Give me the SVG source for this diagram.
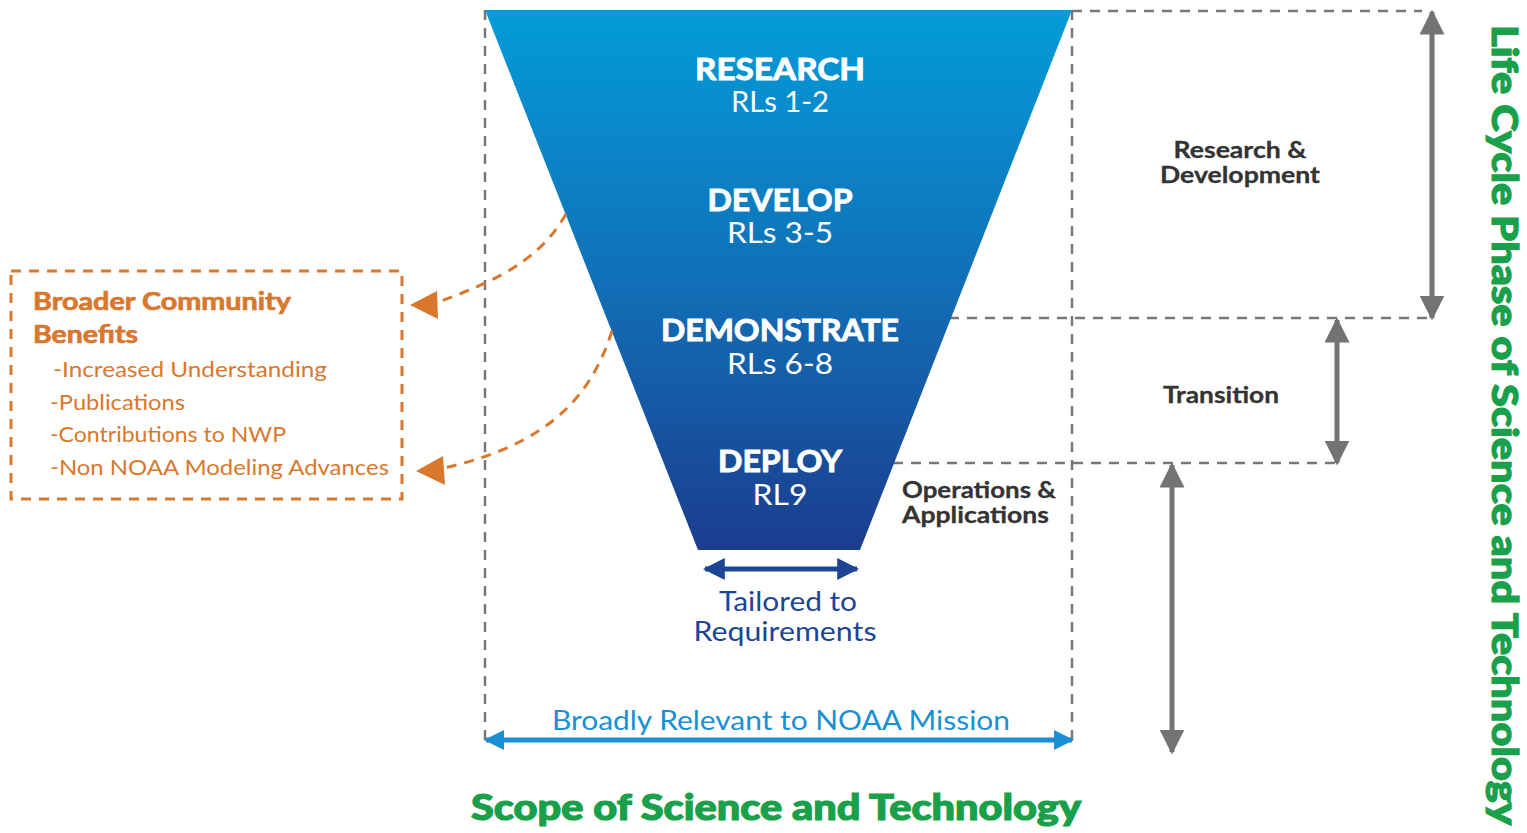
<svg xmlns="http://www.w3.org/2000/svg" width="1527" height="833" viewBox="0 0 1527 833">
  <defs>
    <linearGradient id="funnelFill" x1="0" y1="0" x2="0" y2="1">
      <stop offset="0" stop-color="#039cd9"/>
      <stop offset="0.5" stop-color="#1170b7"/>
      <stop offset="1" stop-color="#1b3d8e"/>
    </linearGradient>
    <marker id="grayHead" viewBox="0 0 10 10" refX="9" refY="5" markerWidth="5" markerHeight="5" orient="auto-start-reverse" markerUnits="strokeWidth">
      <path d="M0,0 L10,5 L0,10 Z" fill="#737373"/>
    </marker>
    <marker id="navyHead" viewBox="0 0 10 10" refX="9" refY="5" markerWidth="4.4" markerHeight="5" orient="auto-start-reverse" markerUnits="strokeWidth">
      <path d="M0,0 L10,5 L0,10 Z" fill="#1c4595"/>
    </marker>
    <marker id="skyHead" viewBox="0 0 10 10" refX="9" refY="5" markerWidth="4" markerHeight="5" orient="auto-start-reverse" markerUnits="strokeWidth">
      <path d="M0,0 L10,5 L0,10 Z" fill="#1a8fd3"/>
    </marker>
  </defs>
  <style>
    .guide { fill: none; stroke: #777777; stroke-width: 2.5; stroke-dasharray: 10 8; }
    .orangeDash { fill: none; stroke: #d9782d; stroke-width: 3; stroke-dasharray: 10 8; }
    .grayArrow { stroke: #737373; stroke-width: 5; fill: none; marker-start: url(#grayHead); marker-end: url(#grayHead); }
    text { font-family: "Lato", "Liberation Sans", sans-serif; }
    .stage { fill: #ffffff; text-anchor: middle; }
    .stageTitle { font-weight: 700; font-size: 30px; stroke: #ffffff; stroke-width: 0.9; }
    .stageRL { font-weight: 400; font-size: 29px; }
    .phase { font-weight: 700; font-size: 23px; fill: #333333; stroke: #333333; stroke-width: 0.3; }
    .benefit { fill: #d9782d; }
    .benefitHead { font-size: 24px; font-weight: 700; stroke: #d9782d; stroke-width: 0.7; }
    .benefitItem { font-size: 22px; }
    .tailored { font-size: 26px; fill: #1c4595; text-anchor: middle; }
    .broad { font-size: 26px; fill: #1a8fd3; text-anchor: middle; }
    .green { font-weight: 900; font-size: 36px; fill: #18a04a; stroke: #18a04a; stroke-width: 1.2; text-anchor: middle; }
  </style>

  <rect x="0" y="0" width="1527" height="833" fill="#ffffff"/>

  <!-- dashed scope guides -->
  <g id="guides">
    <line class="guide" x1="485" y1="10" x2="485" y2="742"/>
    <line class="guide" x1="1072" y1="10" x2="1072" y2="742"/>
    <line class="guide" x1="1072" y1="11" x2="1422" y2="11"/>
    <line class="guide" x1="949" y1="318" x2="1432" y2="318"/>
    <line class="guide" x1="893" y1="463" x2="1338" y2="463"/>
  </g>

  <!-- funnel -->
  <g id="funnel">
    <polygon points="485,10 1072,10 860,550 698,550" fill="url(#funnelFill)"/>
  </g>

  <g id="stage-research">
    <text class="stage stageTitle" x="780" y="80" textLength="170" lengthAdjust="spacingAndGlyphs">RESEARCH</text>
    <text class="stage stageRL" x="780" y="112" textLength="98" lengthAdjust="spacingAndGlyphs">RLs 1-2</text>
  </g>
  <g id="stage-develop">
    <text class="stage stageTitle" x="780" y="211" textLength="145" lengthAdjust="spacingAndGlyphs">DEVELOP</text>
    <text class="stage stageRL" x="780" y="243" textLength="106" lengthAdjust="spacingAndGlyphs">RLs 3-5</text>
  </g>
  <g id="stage-demonstrate">
    <text class="stage stageTitle" x="780" y="341" textLength="238" lengthAdjust="spacingAndGlyphs">DEMONSTRATE</text>
    <text class="stage stageRL" x="780" y="374" textLength="106" lengthAdjust="spacingAndGlyphs">RLs 6-8</text>
  </g>
  <g id="stage-deploy">
    <text class="stage stageTitle" x="780" y="472" textLength="124" lengthAdjust="spacingAndGlyphs">DEPLOY</text>
    <text class="stage stageRL" x="780" y="505" textLength="55" lengthAdjust="spacingAndGlyphs">RL9</text>
  </g>

  <!-- benefits box -->
  <g id="benefits">
    <rect class="orangeDash" x="11" y="271" width="391" height="228"/>
    <text class="benefit benefitHead" x="33" y="310" textLength="258" lengthAdjust="spacingAndGlyphs">Broader Community</text>
    <text class="benefit benefitHead" x="33" y="343" textLength="105" lengthAdjust="spacingAndGlyphs">Benefits</text>
    <text class="benefit benefitItem" x="53" y="377" textLength="274" lengthAdjust="spacingAndGlyphs">-Increased Understanding</text>
    <text class="benefit benefitItem" x="50" y="410" textLength="135" lengthAdjust="spacingAndGlyphs">-Publications</text>
    <text class="benefit benefitItem" x="50" y="442" textLength="236" lengthAdjust="spacingAndGlyphs">-Contributions to NWP</text>
    <text class="benefit benefitItem" x="50" y="475" textLength="339" lengthAdjust="spacingAndGlyphs">-Non NOAA Modeling Advances</text>
  </g>

  <!-- phase labels -->
  <g id="phase-rd">
    <text class="phase" x="1240" y="158" text-anchor="middle" textLength="133" lengthAdjust="spacingAndGlyphs">Research &amp;</text>
    <text class="phase" x="1240" y="183" text-anchor="middle" textLength="160" lengthAdjust="spacingAndGlyphs">Development</text>
  </g>
  <g id="phase-transition">
    <text class="phase" x="1221" y="403" text-anchor="middle" textLength="116" lengthAdjust="spacingAndGlyphs">Transition</text>
  </g>
  <g id="phase-ops">
    <text class="phase" x="902" y="498" textLength="154" lengthAdjust="spacingAndGlyphs">Operations &amp;</text>
    <text class="phase" x="902" y="523" textLength="147" lengthAdjust="spacingAndGlyphs">Applications</text>
  </g>

  <g id="label-tailored">
    <text class="tailored" x="788" y="611" textLength="138" lengthAdjust="spacingAndGlyphs">Tailored to</text>
    <text class="tailored" x="785" y="641" textLength="183" lengthAdjust="spacingAndGlyphs">Requirements</text>
  </g>
  <g id="label-broad">
    <text class="broad" x="781" y="730" textLength="458" lengthAdjust="spacingAndGlyphs">Broadly Relevant to NOAA Mission</text>
  </g>

  <g id="title-scope">
    <text class="green" x="776" y="820" textLength="610" lengthAdjust="spacingAndGlyphs">Scope of Science and Technology</text>
  </g>
  <g id="title-lifecycle">
    <text class="green" transform="translate(1492,425) rotate(90)" x="0" y="0" textLength="800" lengthAdjust="spacingAndGlyphs">Life Cycle Phase of Science and Technology</text>
  </g>

  <!-- connectors -->
  <g id="connectors">
    <line class="grayArrow" x1="1432" y1="12" x2="1432" y2="318"/>
    <line class="grayArrow" x1="1337" y1="320" x2="1337" y2="463"/>
    <line class="grayArrow" x1="1172" y1="465" x2="1172" y2="752"/>
    <line x1="705" y1="569" x2="857" y2="569" stroke="#1c4595" stroke-width="5" marker-start="url(#navyHead)" marker-end="url(#navyHead)"/>
    <line x1="486" y1="740" x2="1072" y2="740" stroke="#1a8fd3" stroke-width="5" marker-start="url(#skyHead)" marker-end="url(#skyHead)"/>
    <path class="orangeDash" d="M566,214 C545,250 515,275 438,302"/>
    <polygon points="410,305 437,291 438,319" fill="#d9782d"/>
    <path class="orangeDash" d="M612,331 C590,400 545,445 444,468"/>
    <polygon points="416,471 443,456 445,485" fill="#d9782d"/>
  </g>
</svg>
